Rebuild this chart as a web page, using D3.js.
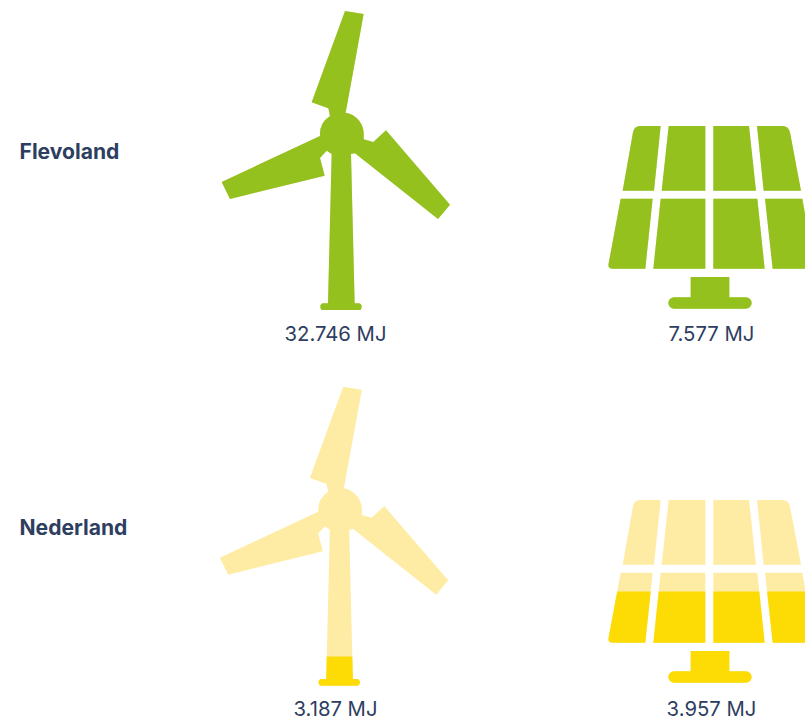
<!DOCTYPE html>
<html>
<head>
  <meta charset="UTF-8">
  <script src="https://d3js.org/d3.v7.min.js"></script>
  <style>
    html, body { margin: 0; padding: 0; background: #fff; overflow: hidden; }
    text { font-family: Inter, sans-serif; fill: #2d3e61; }
    .region { font-size: 21.1px; font-weight: 700; }
    .amount { font-size: 20.3px; font-weight: 400; }
  </style>
</head>
<body>
  <svg id="chart" width="805" height="721"></svg>
  <script>
    // values in MJ
    const regions = ["Flevoland", "Nederland"];
    const windValues = [32746, 3187];
    const solarValues = [7577, 3957];

    const rowColors = [
      { full: "#95c11f", pale: "#d5e6a5" },
      { full: "#fddc06", pale: "#feeca5" }
    ];

    // icons are drawn in a 3x grid, so they get scaled down by 1/3
    const windIcon = "M435,33 L491,42 L437,338 A66,66 0 0 1 491,410 L491,418 L520,426 L558,391 L750,614 L714,657 " +
      "L465,460 L453,462 L464,910 L476,910 Q485,911 485,920 Q485,930 476,930 L370,930 Q361,930 361,920 Q361,911 370,910 " +
      "L384,910 L395,462 L380,452 L360,474 L374,527 L90,597 L65,546 L360,408 A66,66 0 0 1 390,348 L385,325 L335,307 Z";

    const solarIcon = [
      "M182,33 L120,33 Q103,33 99,52 L68,227 L162,227 Z",
      "M206,33 L316,33 L316,227 L185,227 Z",
      "M340,33 L447,33 L468,227 L340,227 Z",
      "M471,33 L548,33 Q565,33 570,52 L603,227 L491,227 Z",
      "M62,251 L158,251 L136,461 L38,461 Q22,461 26,445 Z",
      "M182,251 L316,251 L316,461 L160,461 Z",
      "M340,251 L472,251 L494,461 L340,461 Z",
      "M495,251 L607,251 L642,445 Q645,461 628,461 L518,461 Z",
      "M272,486 L388,486 L388,547 L438,547 A17,17 0 0 1 438,581 L222,581 A17,17 0 0 1 222,547 L272,547 Z"
    ].join(" ");

    const windBox = { x: 200, y: [0, 375.7], dx: [0, -1.8], top: 33, bottom: 930 };
    const solarBox = { x: 600, y: [115, 489], dx: [0, 0], top: 33, bottom: 608 };

    // fill level inside each icon
    const windY = d3.scaleLinear().domain([0, d3.max(windValues)]).range([windBox.bottom, windBox.top]);
    const solarY = d3.scaleLinear().domain([0, d3.max(solarValues)]).range([solarBox.bottom, solarBox.top]);

    const nl = d3.formatLocale({ decimal: ",", thousands: ".", grouping: [3], currency: ["", ""] });
    const fmt = v => nl.format(",d")(v) + " MJ";

    const svg = d3.select("#chart");
    const defs = svg.append("defs");

    function drawIcon(path, box, scale, value, row, id) {
      defs.append("clipPath").attr("id", id)
        .append("rect")
        .attr("x", 0)
        .attr("y", scale(value))
        .attr("width", 800)
        .attr("height", 1000);

      const g = svg.append("g")
        .attr("transform", `translate(${box.x + box.dx[row]},${box.y[row]}) scale(${1 / 3})`);

      g.append("path").attr("d", path).attr("fill", rowColors[row].pale);
      g.append("path").attr("d", path).attr("fill", rowColors[row].full).attr("clip-path", `url(#${id})`);
    }

    regions.forEach((name, i) => {
      drawIcon(windIcon, windBox, windY, windValues[i], i, "wind-" + i);
      drawIcon(solarIcon, solarBox, solarY, solarValues[i], i, "solar-" + i);

      const baseline = i === 0 ? 341 : 716;
      svg.append("text").attr("class", "region")
        .attr("x", 19.5).attr("y", i === 0 ? 159 : 535)
        .text(name);
      svg.append("text").attr("class", "amount")
        .attr("x", 335.5).attr("y", baseline).attr("text-anchor", "middle")
        .text(fmt(windValues[i]));
      svg.append("text").attr("class", "amount")
        .attr("x", 711.5).attr("y", baseline).attr("text-anchor", "middle")
        .text(fmt(solarValues[i]));
    });
  </script>
</body>
</html>
